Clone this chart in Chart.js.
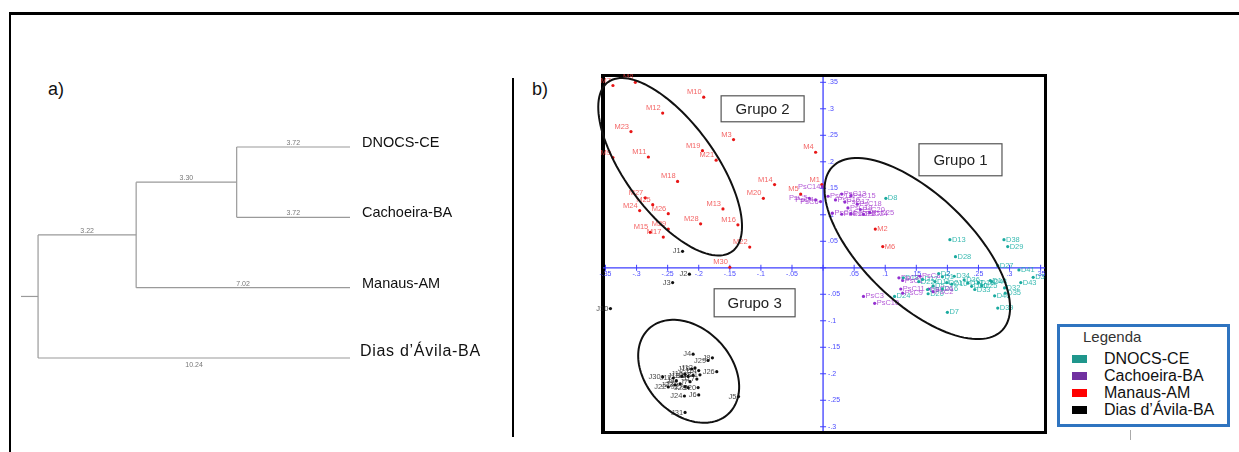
<!DOCTYPE html>
<html>
<head>
<meta charset="utf-8">
<script src="https://cdn.jsdelivr.net/npm/chart.js@4.4.1/dist/chart.umd.min.js"></script>
<style>
html, body { margin: 0; padding: 0; background: #fff; }
#wrap { position: relative; width: 1239px; height: 452px; overflow: hidden; font-family: "Liberation Sans", Arial, sans-serif; }
canvas { position: absolute; left: 0; top: 0; }
.line { position: absolute; background: #000; }
.plotbox { position: absolute; left: 601px; top: 74px; width: 439px; height: 354px; border: 3px solid #000; border-left-width: 4px; }
.tag { position: absolute; font-size: 18px; color: #111; line-height: 18px; }
#legend { position: absolute; left: 1057px; top: 324px; width: 173px; height: 103px; box-sizing: border-box; border: 3px solid #2f74c0; background: #fff; z-index: 5; }
#legend .title { position: absolute; left: 23px; top: 1px; font-size: 15px; color: #333; }
#legend .row { position: absolute; left: 12px; font-size: 16px; color: #111; line-height: 16px; height: 16px; }
#legend .sw { position: absolute; left: 0; top: 4px; width: 15px; height: 8px; }
#legend .txt { position: absolute; left: 32px; top: 0; white-space: nowrap; }
</style>
</head>
<body>
<div id="wrap">
  <div class="line" style="left:9px;top:12px;width:1240px;height:3px;"></div>
  <div class="line" style="left:9px;top:12px;width:2px;height:450px;"></div>
  <div class="line" style="left:512px;top:78px;width:2px;height:359px;"></div>
  <div class="plotbox"></div>
  <div class="line" style="left:1130px;top:430px;width:1px;height:10px;background:#aaa;"></div>
  <div class="tag" style="left:48px;top:80px;">a)</div>
  <div class="tag" style="left:532px;top:80px;">b)</div>
  <canvas id="dendro" width="513" height="452"></canvas>
  <canvas id="pca" width="1239" height="452"></canvas>
  <div id="legend"><div class="title">Legenda</div></div>
</div>
<script>
// populações (folhas do dendrograma e séries do gráfico b)
const seriesNames = ['DNOCS-CE', 'Cachoeira-BA', 'Manaus-AM', 'Dias d\u2019\u00C1vila-BA'];
const pointColors = ['#1aaa9f', '#9430d0', '#e81515', '#111111'];
const labelColors = ['rgba(25,175,165,0.85)', 'rgba(160,50,205,0.8)', 'rgba(240,60,60,0.8)', 'rgba(40,40,40,0.85)'];
const legendColors = ['#1f968c', '#7030a0', '#ff0000', '#000000'];

// dendrograma: [filho A, filho B, ramo A, ramo B]; nós 0-3 são folhas, 4.. nós internos
const merges = [
  [0, 1, 3.72, 3.72],
  [4, 2, 3.30, 7.02],
  [5, 3, 3.22, 10.24]
];
const rootStub = 0.56;

// coordenadas [nome, eixo 1, eixo 2]
const dnocsPts = [
  ['D8', 0.101, 0.131], ['D13', 0.204, 0.053], ['D38', 0.291, 0.053], ['D29', 0.297, 0.040],
  ['D28', 0.213, 0.021], ['D27', 0.281, 0.004], ['D41', 0.315, -0.004], ['D3', 0.338, -0.018],
  ['D43', 0.318, -0.028], ['D7', 0.200, -0.084], ['D24', 0.115, -0.054], ['D20', 0.169, -0.049],
  ['D39', 0.281, -0.076], ['D40', 0.276, -0.053], ['D35', 0.293, -0.048], ['D32', 0.292, -0.038],
  ['D44', 0.271, -0.026], ['D36', 0.227, -0.023], ['D30', 0.239, -0.035], ['D2', 0.186, -0.011],
  ['D21', 0.199, -0.028], ['D11', 0.180, -0.026], ['D33', 0.244, -0.041], ['D16', 0.192, -0.040],
  ['D34', 0.211, -0.016], ['D25', 0.255, -0.034], ['D1', 0.192, -0.017], ['D5', 0.177, -0.034],
  ['D9', 0.168, -0.041], ['D10', 0.207, -0.031], ['D12', 0.233, -0.029], ['D14', 0.269, -0.024],
  ['D15', 0.250, -0.028], ['D17', 0.160, -0.022], ['D18', 0.129, -0.019], ['D22', 0.154, -0.026]
];
const cachoeiraPts = [
  ['PsC14', -0.001, 0.153], ['PsC4', -0.012, 0.128], ['PsC5', -0.022, 0.131], ['PsC6', -0.004, 0.125],
  ['PsC12', 0.008, 0.135], ['PsC13', 0.030, 0.139], ['PsC15', 0.045, 0.136], ['PsC16', 0.020, 0.128],
  ['PsC17', 0.035, 0.124], ['PsC18', 0.055, 0.120], ['PsC19', 0.040, 0.113], ['PsC20', 0.060, 0.110],
  ['PsC21', 0.015, 0.103], ['PsC22', 0.030, 0.101], ['PsC23', 0.045, 0.102], ['PsC24', 0.065, 0.101],
  ['PsC25', 0.075, 0.104], ['PsC8', 0.156, -0.016], ['PsC1', 0.128, -0.024], ['PsC7', 0.122, -0.019],
  ['PsC11', 0.125, -0.040], ['PsC9', 0.128, -0.048], ['PsC3', 0.065, -0.054], ['PsC10', 0.083, -0.067],
  ['PsC2', 0.177, -0.045], ['PsC26', 0.170, -0.040]
];
const manausPts = [
  ['M7', -0.338, 0.344], ['M8', -0.302, 0.350], ['M10', -0.192, 0.322], ['M12', -0.258, 0.292],
  ['M23', -0.309, 0.257], ['M3', -0.144, 0.242], ['M4', -0.012, 0.218], ['M9', -0.338, 0.208],
  ['M11', -0.281, 0.209], ['M19', -0.194, 0.221], ['M21', -0.172, 0.203], ['M18', -0.234, 0.163],
  ['M14', -0.078, 0.157], ['M1', -0.002, 0.157], ['M5', -0.036, 0.139], ['M20', -0.096, 0.131],
  ['M27', -0.286, 0.132], ['M25', -0.274, 0.119], ['M24', -0.295, 0.108], ['M26', -0.249, 0.102],
  ['M13', -0.161, 0.111], ['M28', -0.197, 0.083], ['M16', -0.137, 0.081], ['M29', -0.249, 0.073],
  ['M15', -0.278, 0.067], ['M17', -0.257, 0.058], ['M22', -0.118, 0.039], ['M30', -0.150, 0.001],
  ['M2', 0.084, 0.073], ['M6', 0.096, 0.040]
];
const diasPts = [
  ['J1', -0.226, 0.031], ['J2', -0.215, -0.012], ['J3', -0.242, -0.028], ['J10', -0.342, -0.077],
  ['J4', -0.209, -0.163], ['J8', -0.178, -0.170], ['J29', -0.185, -0.175], ['J26', -0.171, -0.196],
  ['J19', -0.211, -0.191], ['J12', -0.206, -0.189], ['J14', -0.200, -0.194], ['J30', -0.258, -0.206],
  ['J11', -0.241, -0.208], ['J13', -0.227, -0.205], ['J15', -0.222, -0.201], ['J16', -0.217, -0.205],
  ['J18', -0.209, -0.203], ['J21', -0.198, -0.202], ['J17', -0.203, -0.210], ['J22', -0.249, -0.225],
  ['J23', -0.238, -0.221], ['J25', -0.230, -0.219], ['J27', -0.222, -0.224], ['J28', -0.217, -0.226],
  ['J20', -0.201, -0.226], ['J24', -0.223, -0.242], ['J6', -0.200, -0.240], ['J5', -0.136, -0.243],
  ['J31', -0.222, -0.273], ['J7', -0.214, -0.215], ['J9', -0.236, -0.213]
];
const seriesPts = [dnocsPts, cachoeiraPts, manausPts, diasPts];

const FONT = '"Liberation Sans", Arial, sans-serif';

/* ---------- a) dendrograma ---------- */
const nodeY = seriesNames.map((n, i) => i);
merges.forEach(m => nodeY.push((nodeY[m[0]] + nodeY[m[1]]) / 2));
const nodeX = nodeY.map(() => 0);
for (let i = merges.length - 1; i >= 0; i--) {
  const n = seriesNames.length + i, m = merges[i];
  nodeX[m[0]] = nodeX[n] + m[2];
  nodeX[m[1]] = nodeX[n] + m[3];
}
const rootNode = nodeY.length - 1;
const segs = [{ pts: [{ x: -rootStub, y: nodeY[rootNode] }, { x: 0, y: nodeY[rootNode] }] }];
merges.forEach((m, i) => {
  const n = seriesNames.length + i;
  segs.push({ pts: [{ x: nodeX[n], y: nodeY[m[0]] }, { x: nodeX[n], y: nodeY[m[1]] }] });
  [0, 1].forEach(k => segs.push({
    pts: [{ x: nodeX[n], y: nodeY[m[k]] }, { x: nodeX[m[k]], y: nodeY[m[k]] }],
    len: m[2 + k]
  }));
});

const dendroLabels = {
  id: 'dendroLabels',
  afterDatasetsDraw(chart) {
    const { ctx, scales: { x, y }, chartArea } = chart;
    ctx.save();
    ctx.fillStyle = '#777';
    ctx.font = '7px ' + FONT;
    ctx.textAlign = 'center';
    ctx.textBaseline = 'middle';
    chart.data.datasets.forEach(ds => {
      if (ds.len === undefined) return;
      const p0 = ds.data[0], p1 = ds.data[1];
      const px = x.getPixelForValue((p0.x + p1.x) / 2);
      const py = y.getPixelForValue(p0.y);
      ctx.fillText(ds.len.toFixed(2), px, p0.y === y.max ? py + 7 : py - 4);
    });
    ctx.fillStyle = '#111';
    ctx.textAlign = 'left';
    seriesNames.forEach((name, i) => {
      const py = y.getPixelForValue(i);
      if (i === seriesNames.length - 1) {
        ctx.font = '16px ' + FONT;
        ctx.letterSpacing = '0.7px';
        ctx.fillText(name, chartArea.right + 10, py - 6);
        ctx.letterSpacing = '0px';
      } else {
        ctx.font = '14.5px ' + FONT;
        ctx.fillText(name, chartArea.right + 12, py - 4);
      }
    });
    ctx.restore();
  }
};

new Chart(document.getElementById('dendro'), {
  type: 'scatter',
  data: {
    datasets: segs.map(s => ({
      data: s.pts,
      len: s.len,
      showLine: true,
      borderColor: '#9a9a9a',
      borderWidth: 1.2,
      pointRadius: 0,
      clip: false
    }))
  },
  options: {
    responsive: false,
    animation: false,
    events: [],
    layout: { padding: { left: 21, right: 163, top: 147, bottom: 94 } },
    scales: {
      x: { type: 'linear', min: -rootStub, max: 10.24, display: false },
      y: { type: 'linear', min: 0, max: 3, reverse: true, display: false }
    },
    plugins: { legend: { display: false }, tooltip: { enabled: false } }
  },
  plugins: [dendroLabels]
});

/* ---------- b) dispersão ---------- */
function fmtTick(v) {
  const s = (Math.round(v * 1000) / 1000).toString();
  return s.replace(/^(-?)0\./, '$1.');
}

const crossAxes = {
  id: 'crossAxes',
  beforeDatasetsDraw(chart) {
    const { ctx, scales: { x, y }, chartArea } = chart;
    const x0 = x.getPixelForValue(0), y0 = y.getPixelForValue(0);
    ctx.save();
    ctx.strokeStyle = '#3f3fff';
    ctx.fillStyle = '#4a4aff';
    ctx.lineWidth = 1.3;
    ctx.beginPath();
    ctx.moveTo(chartArea.left, y0); ctx.lineTo(chartArea.right, y0);
    ctx.moveTo(x0, chartArea.top); ctx.lineTo(x0, chartArea.bottom);
    ctx.stroke();
    ctx.font = '7px ' + FONT;
    ctx.lineWidth = 1;
    ctx.textAlign = 'center';
    ctx.textBaseline = 'top';
    x.ticks.forEach(t => {
      const px = x.getPixelForValue(t.value);
      const major = Math.round(t.value / 0.025) % 2 === 0;
      ctx.beginPath(); ctx.moveTo(px, y0 - 3); ctx.lineTo(px, y0 + 3); ctx.stroke();
      if (major && Math.abs(t.value) > 1e-6) ctx.fillText(fmtTick(t.value), px, y0 + 3);
    });
    ctx.textAlign = 'left';
    ctx.textBaseline = 'middle';
    y.ticks.forEach(t => {
      const py = y.getPixelForValue(t.value);
      const major = Math.round(t.value / 0.025) % 2 === 0;
      ctx.beginPath(); ctx.moveTo(x0 - 3, py); ctx.lineTo(x0 + 3, py); ctx.stroke();
      if (major && Math.abs(t.value) > 1e-6) ctx.fillText(fmtTick(t.value), x0 + 5, py);
    });
    ctx.restore();
  }
};

const pointLabels = {
  id: 'pointLabels',
  beforeDatasetsDraw(chart) {
    const ctx = chart.ctx;
    ctx.save();
    ctx.font = '7.5px ' + FONT;
    chart.data.datasets.forEach((ds, di) => {
      const meta = chart.getDatasetMeta(di);
      ctx.fillStyle = ds.labelColor;
      meta.data.forEach((el, i) => {
        const d = ds.data[i];
        const left = d.x < 0;
        ctx.textAlign = left ? 'right' : 'left';
        ctx.textBaseline = 'middle';
        ctx.fillText(d.name, el.x + (left ? -2 : 2), el.y - (left ? ds.labelLift : 0));
      });
    });
    ctx.restore();
  }
};

// elipses dos grupos: centro, semi-eixo maior e menor (em unidades dos eixos)
const groupEllipses = [
  { c: [0.1516, 0.0362], u: [0.1365, -0.1543], v: [0.0603, 0.0734] },
  { c: [-0.246, 0.1906], u: [0.0998, -0.1598], v: [0.0584, 0.0502] },
  { c: [-0.2162, -0.1953], u: [0.0640, -0.0802], v: [0.0500, 0.0549] }
];
const groupBoxes = [
  { text: 'Grupo 1', x: [0.1543, 0.2878], y: [0.234, 0.1736] },
  { text: 'Grupo 2', x: [-0.164, -0.0305], y: [0.3245, 0.2755] },
  { text: 'Grupo 3', x: [-0.1752, -0.045], y: [-0.0396, -0.0925] }
];

const groups = {
  id: 'groups',
  afterDatasetsDraw(chart) {
    const { ctx, scales: { x, y } } = chart;
    ctx.save();
    ctx.strokeStyle = '#111';
    ctx.lineWidth = 2;
    groupEllipses.forEach(e => {
      ctx.beginPath();
      for (let k = 0; k <= 120; k++) {
        const t = k / 120 * Math.PI * 2;
        const dx = e.c[0] + Math.cos(t) * e.u[0] + Math.sin(t) * e.v[0];
        const dy = e.c[1] + Math.cos(t) * e.u[1] + Math.sin(t) * e.v[1];
        const px = x.getPixelForValue(dx), py = y.getPixelForValue(dy);
        if (k === 0) ctx.moveTo(px, py); else ctx.lineTo(px, py);
      }
      ctx.stroke();
    });
    ctx.lineWidth = 1.2;
    ctx.strokeStyle = '#555';
    ctx.font = '15px ' + FONT;
    ctx.textAlign = 'center';
    ctx.textBaseline = 'middle';
    groupBoxes.forEach(b => {
      const l = x.getPixelForValue(b.x[0]), r = x.getPixelForValue(b.x[1]);
      const t = y.getPixelForValue(b.y[0]), bt = y.getPixelForValue(b.y[1]);
      ctx.fillStyle = '#fff';
      ctx.fillRect(l, t, r - l, bt - t);
      ctx.strokeRect(l, t, r - l, bt - t);
      ctx.fillStyle = '#222';
      ctx.fillText(b.text, (l + r) / 2, (t + bt) / 2 + 1);
    });
    ctx.restore();
  }
};

const pca = new Chart(document.getElementById('pca'), {
  type: 'scatter',
  data: {
    datasets: seriesPts.map((pts, i) => ({
      label: seriesNames[i],
      data: pts.map(([name, x, y]) => ({ x, y, name })),
      backgroundColor: pointColors[i],
      borderWidth: 0,
      pointRadius: 1.6,
      labelColor: labelColors[i],
      labelLift: i === 2 ? 5 : 0,
      clip: false
    }))
  },
  options: {
    responsive: false,
    animation: false,
    events: [],
    layout: { padding: { left: 603, right: 194, top: 77, bottom: 21 } },
    scales: {
      x: { type: 'linear', min: -0.354, max: 0.357, display: false, ticks: { stepSize: 0.025, includeBounds: false } },
      y: { type: 'linear', min: -0.308, max: 0.360, display: false, ticks: { stepSize: 0.025, includeBounds: false } }
    },
    plugins: { legend: { display: false }, tooltip: { enabled: false } }
  },
  plugins: [crossAxes, pointLabels, groups]
});

// legenda em caixa, montada a partir das séries
const legend = document.getElementById('legend');
pca.data.datasets.forEach((ds, i) => {
  const row = document.createElement('div');
  row.className = 'row';
  row.style.top = (24 + i * 17) + 'px';
  row.innerHTML = '<span class="sw" style="background:' + legendColors[i] + '"></span><span class="txt"></span>';
  row.querySelector('.txt').textContent = ds.label;
  legend.appendChild(row);
});
</script>
</body>
</html>
